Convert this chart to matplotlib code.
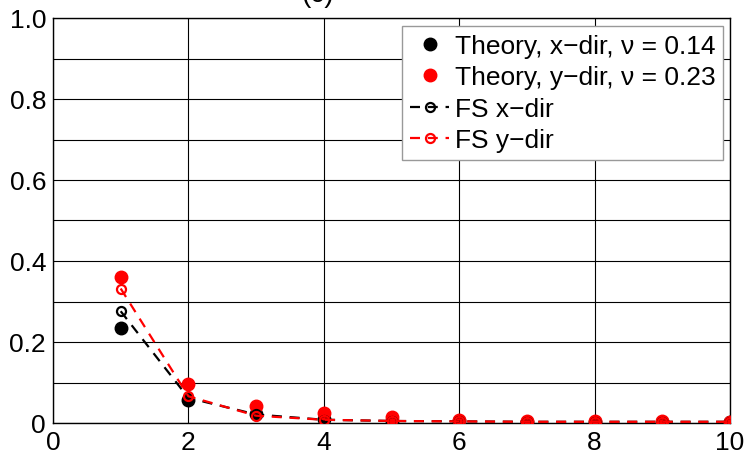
import numpy as np
import matplotlib
matplotlib.use("Agg")
import matplotlib.pyplot as plt

plt.rcParams['font.family'] = ['Liberation Sans', 'DejaVu Sans']

# Data
n = [1, 2, 3, 4, 5, 6, 7, 8, 9, 10]
theory_x = [0.235, 0.057, 0.022, 0.010, 0.006, 0.004, 0.003, 0.003, 0.002, 0.002]
theory_y = [0.360, 0.097, 0.043, 0.025, 0.015, 0.008, 0.005, 0.004, 0.004, 0.003]
fs_x = [0.276, 0.062, 0.021, 0.008, 0.005, 0.004, 0.003, 0.003, 0.003, 0.003]
fs_y = [0.332, 0.066, 0.018, 0.008, 0.005, 0.004, 0.003, 0.003, 0.003, 0.003]

labels = ['Theory, x\u2212dir, \u03bd = 0.14', 'Theory, y\u2212dir, \u03bd = 0.23',
          'FS x\u2212dir', 'FS y\u2212dir']
xticks = [0, 2, 4, 6, 8, 10]
yticks = [0, 0.2, 0.4, 0.6, 0.8, 1.0]
yticklabels = ['0', '0.2', '0.4', '0.6', '0.8', '1.0']

fig = plt.figure(figsize=(7.46, 4.60), dpi=100)
ax = fig.add_axes([53/746, 36/460, 677/746, 405/460])

red = '#ff0000'
ax.plot(n, theory_x, linestyle='none', marker='o', ms=9, color='black',
        label=labels[0], zorder=3)
ax.plot(n, theory_y, linestyle='none', marker='o', ms=9, color=red,
        label=labels[1], zorder=3)
ax.plot(n, fs_x, linestyle=(0, (4.5, 3.5)), lw=1.6, marker='o', ms=6.5,
        mfc='none', mew=1.6, color='black', label=labels[2], zorder=4)
ax.plot(n, fs_y, linestyle=(0, (4.5, 3.5)), lw=1.6, marker='o', ms=6.5,
        mfc='none', mew=1.6, color=red, label=labels[3], zorder=4)

ax.set_xlim(0, 10)
ax.set_ylim(0, 1.0)
ax.set_xticks(xticks)
ax.set_yticks(yticks)
ax.set_yticklabels(yticklabels)
ax.set_yticks(np.arange(0.1, 1.0, 0.2), minor=True)
ax.grid(True, which='both', color='black', lw=0.8)
ax.set_axisbelow(True)
ax.tick_params(which='both', direction='in', length=0, labelsize=19, pad=5)
for s in ax.spines.values():
    s.set_linewidth(1.0)
    s.set_color('black')

leg = ax.legend(loc='upper right', bbox_to_anchor=(0.99, 0.98),
                borderaxespad=0, fontsize=19, frameon=True, fancybox=False,
                edgecolor='#999999', framealpha=1, handlelength=1.5,
                handletextpad=0.2, labelspacing=0.28, borderpad=0.3)
leg.get_frame().set_linewidth(1.0)

# Panel label sits at the very top edge of the figure
fig.text(318/746, 1.0 - 2/460, '(c)', ha='center', va='baseline', fontsize=20)

fig.savefig('out.png', dpi=100)
